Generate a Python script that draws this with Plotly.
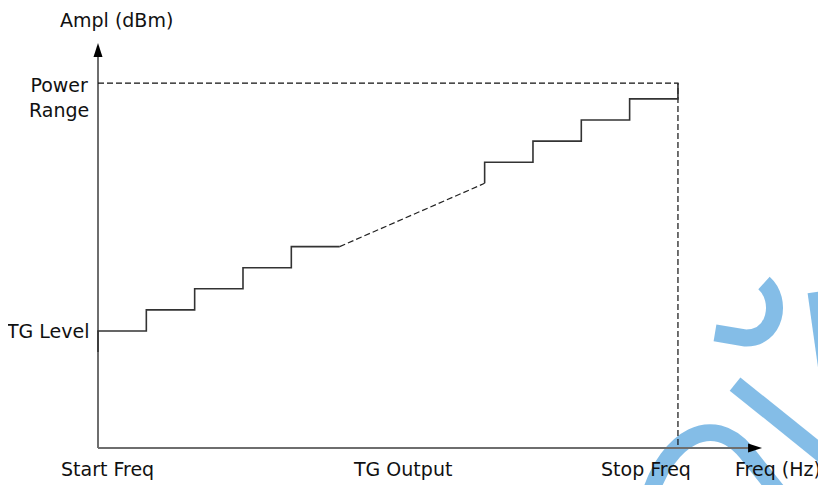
import plotly.graph_objects as go

# ---- data (frequency in step units, amplitude in step units above TG Level) ----
low_steps_freq = [0, 0, 1, 2, 3, 4, 5]
low_steps_ampl = [-1, 0, 1, 2, 3, 4, 4]
sweep_freq = [5, 8]
sweep_ampl = [4, 7]
high_steps_freq = [8, 9, 10, 11, 12, 12]
high_steps_ampl = [7, 8, 9, 10, 11, 11.75]
power_range = 11.75
stop_freq = 12
axis_floor = -5.55
x_axis_end = 13.74
y_axis_end = 13.65

x_label_text = ["Start Freq", "TG Output", "Stop Freq", "Freq (Hz)"]
x_label_left = [-0.8, 5.24, 10.37, 13.14]
y_label_text = ["TG Level", "Power<br>Range"]
y_label_pos = [0, 11.08]

FONT = "DejaVu Sans"
FS = 19
OFF = 8                      # page body margin
SW, SH = 826, 485            # screen size
W, H = SW - OFF, SH - OFF    # figure size
PX_X0, PX_XU = 98, 48.33
PX_Y0, PX_YU = 331, 21.1

fig = go.Figure()

# limit box (dashed)
fig.add_trace(go.Scatter(x=[0, stop_freq, stop_freq], y=[power_range, power_range, axis_floor],
                         mode="lines", line=dict(color="#111", width=1.2, dash="6px,3px"),
                         hoverinfo="skip", showlegend=False))
# staircase low
fig.add_trace(go.Scatter(x=low_steps_freq, y=low_steps_ampl, mode="lines", line_shape="hv",
                         line=dict(color="#333", width=1.6), hoverinfo="skip", showlegend=False))
# dashed sweep
fig.add_trace(go.Scatter(x=sweep_freq, y=sweep_ampl, mode="lines",
                         line=dict(color="#222", width=1.2, dash="6px,3px"),
                         hoverinfo="skip", showlegend=False))
# staircase high
fig.add_trace(go.Scatter(x=high_steps_freq, y=high_steps_ampl, mode="lines", line_shape="vh",
                         line=dict(color="#333", width=1.6), hoverinfo="skip", showlegend=False))

# watermark (decorative, in screen pixel space)
def P(x, y):
    return f"{(x - OFF) / W:.4f},{1 - (y - OFF) / H:.4f}"

shapes = []
wm_color = "rgba(115,180,228,0.88)"
wm_paths = [
    f"M {P(764,283)} C {P(783,300)} {P(776,339)} {P(745,338)} L {P(715,333)}",
    f"M {P(735,384)} L {P(832,462)}",
    f"M {P(816,292)} L {P(834,420)}",
    f"M {P(650,495)} C {P(668,438)} {P(712,412)} {P(746,452)} L {P(782,497)}",
]
for p in wm_paths:
    shapes.append(dict(type="path", xref="paper", yref="paper", path=p,
                       line=dict(color=wm_color, width=17), layer="below"))

shapes += [
    dict(type="line", x0=0, y0=axis_floor, x1=x_axis_end - 0.2, y1=axis_floor,
         line=dict(color="#6e6e6e", width=2), layer="below"),
    dict(type="line", x0=0, y0=axis_floor, x1=0, y1=y_axis_end - 0.5,
         line=dict(color="#6e6e6e", width=2), layer="below"),
    dict(type="path", xref="x", yref="y", xsizemode="pixel", ysizemode="pixel",
         xanchor=x_axis_end, yanchor=axis_floor, path="M 0,0 L -14,4.5 L -14,-4.5 Z",
         fillcolor="#000", line=dict(width=0), layer="above"),
    dict(type="path", xref="x", yref="y", xsizemode="pixel", ysizemode="pixel",
         xanchor=0, yanchor=y_axis_end, path="M 0,0 L -4.5,-14 L 4.5,-14 Z",
         fillcolor="#000", line=dict(width=0), layer="above"),
]

font = dict(size=FS, color="#111", family=FONT)
annotations = [dict(x=0.39, y=14.75, text="Ampl (dBm)", showarrow=False, xanchor="center",
                    yanchor="middle", font=font)]
for t, xp in zip(x_label_text, x_label_left):
    annotations.append(dict(x=xp, y=-6.55, text=t, showarrow=False, xanchor="left",
                            yanchor="middle", font=font))
annotations.append(dict(x=-0.12, y=y_label_pos[0], text=y_label_text[0], showarrow=False,
                        xanchor="right", yanchor="middle", font=font))
annotations.append(dict(x=-0.81, y=y_label_pos[1], text=y_label_text[1], showarrow=False,
                        xanchor="center", yanchor="middle", align="center", font=font))

fig.update_layout(
    width=W, height=H, margin=dict(l=0, r=0, t=0, b=0),
    paper_bgcolor="white", plot_bgcolor="rgba(0,0,0,0)",
    xaxis=dict(range=[(OFF - PX_X0) / PX_XU, (SW - PX_X0) / PX_XU], visible=False, fixedrange=True),
    yaxis=dict(range=[(PX_Y0 - SH) / PX_YU, (PX_Y0 - OFF) / PX_YU], visible=False, fixedrange=True),
    shapes=shapes, annotations=annotations, showlegend=False,
)

fig.write_html("out.html", config={"displayModeBar": False})
